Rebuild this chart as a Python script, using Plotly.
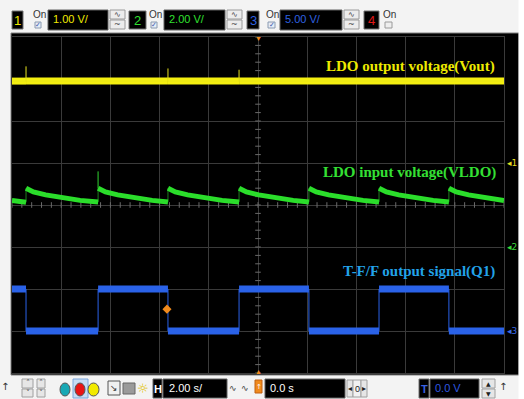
import plotly.graph_objects as go
import numpy as np

# ---------------- data (volts / seconds) ----------------
# Channel settings: volts per division and ground-marker position (divisions from centre)
ch_scale = {"1": 1.00, "2": 2.00, "3": 5.00}
ch_ground_div = {"1": 1.0, "2": -1.0, "3": -3.0}
time_per_div = 2.0  # s/div

# CH1 LDO output voltage (Vout)
vout_t = [-10.0, -9.43, -9.43, -9.43, -3.66, -3.66, -3.66, -0.77, -0.77, -0.77, 10.0]
vout_v = [1.95, 1.95, 2.30, 1.95, 1.95, 2.25, 1.95, 1.95, 2.22, 1.95, 1.95]

# CH2 LDO input voltage (VLDO)
vldo_t = [-10.00, -9.43, -9.43, -9.13, -8.63, -7.93, -7.23, -6.50, -6.50, -6.50,
          -6.20, -5.70, -5.00, -4.30, -3.66, -3.66, -3.36, -2.86, -2.16, -1.46,
          -0.77, -0.77, -0.47, 0.03, 0.73, 1.43, 2.07, 2.07, 2.37, 2.87,
          3.57, 4.27, 4.92, 4.92, 5.22, 5.72, 6.42, 7.12, 7.76, 7.76,
          8.06, 8.56, 9.26, 9.96, 10.00]
vldo_v = [2.22, 2.13, 2.80, 2.62, 2.48, 2.34, 2.22, 2.14, 3.60, 2.80,
          2.62, 2.48, 2.34, 2.22, 2.14, 2.80, 2.62, 2.48, 2.34, 2.22,
          2.14, 2.80, 2.62, 2.48, 2.34, 2.22, 2.14, 2.80, 2.62, 2.48,
          2.34, 2.22, 2.14, 2.80, 2.62, 2.48, 2.34, 2.22, 2.14, 2.80,
          2.62, 2.48, 2.34, 2.22, 2.21]

# CH3 T-F/F output signal (Q1)
q1_t = [-10.0, -9.43, -9.43, -6.50, -6.50, -3.66, -3.66, -0.77, -0.77, 2.07, 2.07, 4.92, 4.92, 7.76, 7.76, 10.0]
q1_v = [5, 5, 0, 0, 5, 5, 0, 0, 5, 5, 0, 0, 5, 5, 0, 0]

# trigger marker
trig_t, trig_v = -3.70, 2.6

labels = ["LDO output voltage(Vout)", "LDO input voltage(VLDO)", "T-F/F output signal(Q1)"]
ch_settings = ["1.00 V/", "2.00 V/", "5.00 V/"]
timebase_label = "2.00 s/"
delay_label = "0.0 s"
trig_level_label = "0.0 V"

# ---------------- layout helpers ----------------
W, H = 524, 399
def px(x): return x / W
def py(y): return 1 - y / H

shapes, annos = [], []
def rect(x0, y0, x1, y1, fill, line=None, lw=1, layer="above"):
    shapes.append(dict(type="rect", xref="paper", yref="paper", x0=px(x0), x1=px(x1),
                       y0=py(y1), y1=py(y0), fillcolor=fill,
                       line=dict(color=line if line else fill, width=lw), layer=layer))
def circ(x0, y0, x1, y1, fill, line="#555"):
    shapes.append(dict(type="circle", xref="paper", yref="paper", x0=px(x0), x1=px(x1),
                       y0=py(y1), y1=py(y0), fillcolor=fill, line=dict(color=line, width=1)))
def text(x, y, s, color="#222", size=10, anchor="center", family="Liberation Sans, Arial, sans-serif", bold=False):
    annos.append(dict(xref="paper", yref="paper", x=px(x), y=py(y), text=("<b>%s</b>" % s) if bold else s,
                      showarrow=False, xanchor=anchor, yanchor="middle",
                      font=dict(color=color, size=size, family=family)))

def split_runs(t, v):
    ot, ov = [], []
    for i in range(len(t)):
        if i > 0 and t[i] == t[i - 1]:
            ot.append(None); ov.append(None)
        ot.append(t[i]); ov.append(v[i])
    return ot, ov

def yrange(ch):
    s, g = ch_scale[ch], ch_ground_div[ch]
    return [(-4 - g) * s, (4 - g) * s]

# ---------------- figure ----------------
fig = go.Figure()

# graticule minor ticks on centre lines
hx = np.arange(-10, 10.001, 0.4)
fig.add_trace(go.Scatter(x=hx, y=[yrange("1")[0] + 4] * len(hx), mode="markers", yaxis="y",
                         marker=dict(symbol="line-ns", size=4, line=dict(color="#6a6a6a", width=1)),
                         hoverinfo="skip", showlegend=False))
vy = np.arange(yrange("1")[0], yrange("1")[1] + 0.001, 0.2)
fig.add_trace(go.Scatter(x=[0] * len(vy), y=vy, mode="markers", yaxis="y",
                         marker=dict(symbol="line-ew", size=4, line=dict(color="#6a6a6a", width=1)),
                         hoverinfo="skip", showlegend=False))

series = [
    (vout_t, vout_v, "y", "#f4ef10", 7, "rgba(230,225,30,0.6)"),
    (vldo_t, vldo_v, "y2", "#2ae02a", 5, "rgba(50,210,50,0.6)"),
    (q1_t, q1_v, "y3", "#2a62e8", 7, "#2a62e8"),
]
for t, v, ax, col, w, thin in series:
    tt, vv = split_runs(t, v)
    fig.add_trace(go.Scatter(x=tt, y=vv, yaxis=ax, mode="lines", line=dict(color=col, width=w),
                             connectgaps=False, hoverinfo="skip", showlegend=False))
    fig.add_trace(go.Scatter(x=t, y=v, yaxis=ax, mode="lines", line=dict(color=thin, width=1),
                             hoverinfo="skip", showlegend=False))

fig.add_trace(go.Scatter(x=[trig_t], y=[trig_v], yaxis="y3", mode="markers",
                         marker=dict(symbol="diamond", size=7, color="#f08a1c"),
                         hoverinfo="skip", showlegend=False))

# trace labels
serif = "Liberation Serif, Times New Roman, serif"
annos.append(dict(xref="paper", yref="paper", x=px(497), y=py(66), text="<b>%s</b>" % labels[0], showarrow=False,
                  xanchor="right", yanchor="middle", font=dict(color="#eeea00", size=15, family=serif)))
annos.append(dict(xref="paper", yref="paper", x=px(498), y=py(172), text="<b>%s</b>" % labels[1], showarrow=False,
                  xanchor="right", yanchor="middle", font=dict(color="#34e034", size=15, family=serif)))
annos.append(dict(xref="paper", yref="paper", x=px(497), y=py(271), text="<b>%s</b>" % labels[2], showarrow=False,
                  xanchor="right", yanchor="middle", font=dict(color="#22a2e8", size=15, family=serif)))

# ground markers on the right
for ch, ax, col in [("1", "y", "#e6de20"), ("2", "y2", "#3ad83a"), ("3", "y3", "#3a6ae8")]:
    annos.append(dict(xref="paper", yref=ax, x=px(512), y=0, text="◂" + ch, showarrow=False,
                      xanchor="center", yanchor="middle", font=dict(color=col, size=9, family="DejaVu Sans")))

# trigger position markers top/bottom
annos.append(dict(xref="x", yref="paper", x=0, y=py(38), text="▼", showarrow=False, xanchor="center",
                  yanchor="middle", font=dict(color="#f08a1c", size=7)))
annos.append(dict(xref="x", yref="paper", x=0, y=py(371), text="▲", showarrow=False, xanchor="center",
                  yanchor="middle", font=dict(color="#f08a1c", size=7)))

# screen background
rect(11, 33, 519, 375, "#000000", line="#808080", lw=1, layer="below")
rect(519, 0, 524, 399, "#ffffff", layer="below")

# ---------------- top bar ----------------
chan = [
    dict(n="1", box=(12, 23), on=39, cb=(35, 41), val=(48, 108), btn=(110, 125), col="#f0ea00"),
    dict(n="2", box=(129, 146), on=155, cb=(151, 157), val=(164, 225), btn=(227, 242), col="#30e030"),
    dict(n="3", box=(247, 259), on=272, cb=(268, 275), val=(280, 342), btn=(344, 359), col="#2f62e0"),
]
for i, c in enumerate(chan):
    rect(c["box"][0], 11, c["box"][1], 29, "#000000", line="#707070")
    text((c["box"][0] + c["box"][1]) / 2, 20.5, c["n"], color=c["col"], size=13)
    text(c["on"], 14, "On", color="#333", size=10)
    rect(c["cb"][0], 22, c["cb"][1], 28, "#e6ecf6", line="#8a9ab0")
    text((c["cb"][0] + c["cb"][1]) / 2, 25, "✓", color="#3c5aa8", size=7, family="DejaVu Sans")
    rect(c["val"][0], 10, c["val"][1], 30, "#000000", line="#606060")
    text(c["val"][0] + 3, 19, ch_settings[i], color=c["col"], size=11, anchor="left")
    rect(c["btn"][0], 10, c["btn"][1], 19, "#ececec", line="#9a9a9a")
    rect(c["btn"][0], 20, c["btn"][1], 29, "#ececec", line="#9a9a9a")
    text((c["btn"][0] + c["btn"][1]) / 2, 14.5, "∿", color="#444", size=8, family="DejaVu Sans")
    text((c["btn"][0] + c["btn"][1]) / 2, 24.5, "~", color="#444", size=8, family="DejaVu Sans")
# channel 4 (off)
rect(364, 11, 379, 29, "#000000", line="#707070")
text(371.5, 20.5, "4", color="#e01818", size=13)
text(389, 14, "On", color="#333", size=10)
rect(385, 22, 392, 28, "#eeeeee", line="#9a9a9a")

# ---------------- bottom bar ----------------
text(5, 386, "↑", color="#333", size=10, family="DejaVu Sans")
for x0, x1 in [(22, 33), (37, 45)]:
    rect(x0, 379, x1, 388, "#e6e6e6", line="#a0a0a0")
    rect(x0, 389, x1, 397, "#e6e6e6", line="#a0a0a0")
    text((x0 + x1) / 2, 383.5, "˄", color="#555", size=8, family="DejaVu Sans")
    text((x0 + x1) / 2, 393, "˅", color="#555", size=8, family="DejaVu Sans")
circ(60, 383, 70, 396, "#19a8b4")
rect(73, 379, 88, 398, "#c6dcf4", line="#7aa6dc")
circ(75, 383, 85, 396, "#e81414")
circ(88, 383, 99, 396, "#f2ea00")
rect(108, 381, 120, 395, "#f0f0f0", line="#555")
text(114, 388, "↘", color="#333", size=9, family="DejaVu Sans")
rect(123, 383, 135, 394, "#9a9a9a", line="#666")
text(143, 388, "☼", color="#e0c000", size=13, family="DejaVu Sans")
rect(153, 379, 162, 398, "#000000", line="#606060")
text(157.5, 388.5, "H", color="#ffffff", size=11, bold=True)
rect(163, 379, 227, 398, "#000000", line="#606060")
text(167, 388, timebase_label, color="#ffffff", size=11, anchor="left")
text(233, 388, "∿", color="#444", size=9, family="DejaVu Sans")
text(245, 388, "∿", color="#444", size=9, family="DejaVu Sans")
rect(255, 380, 262, 393, "#f08a1c", line="#c06010")
text(258.5, 386.5, "↑", color="#ffffff", size=7, family="DejaVu Sans")
rect(265, 379, 345, 398, "#000000", line="#606060")
text(268, 388, delay_label, color="#ffffff", size=11, anchor="left")
rect(347, 380, 353, 397, "#e6e6e6", line="#a0a0a0")
text(350, 388.5, "◂", color="#222", size=8, family="DejaVu Sans")
rect(353, 380, 361, 397, "#f2f2f2", line="#a0a0a0")
text(357, 388.5, "0", color="#222", size=9)
rect(361, 380, 367, 397, "#e6e6e6", line="#a0a0a0")
text(364, 388.5, "▸", color="#222", size=8, family="DejaVu Sans")
rect(419, 379, 429, 398, "#000000", line="#707070")
text(424, 388.5, "T", color="#3a62e0", size=11, bold=True)
rect(430, 379, 479, 398, "#000000", line="#606060")
text(433, 388, trig_level_label, color="#2f5ae0", size=11, anchor="left")
rect(482, 379, 495, 388, "#e6e6e6", line="#a0a0a0")
rect(482, 389, 495, 398, "#e6e6e6", line="#a0a0a0")
text(488.5, 383.5, "▲", color="#222", size=6, family="DejaVu Sans")
text(488.5, 393.5, "▼", color="#222", size=6, family="DejaVu Sans")
text(503, 386, "↑", color="#333", size=10, family="DejaVu Sans")

gridc = "#3a3a3a"
fig.update_layout(
    width=W, height=H, margin=dict(l=0, r=0, t=0, b=0),
    paper_bgcolor="#f3f3f3", plot_bgcolor="#000000", showlegend=False,
    xaxis=dict(domain=[px(12), px(504)], range=[-5 * time_per_div, 5 * time_per_div], dtick=time_per_div,
               tick0=0, showgrid=True, gridcolor=gridc, gridwidth=1, zeroline=False,
               showticklabels=False, ticks="", showline=True, linecolor=gridc, mirror=True, fixedrange=True),
    yaxis=dict(domain=[py(373), py(37)], range=yrange("1"), dtick=ch_scale["1"], tick0=0,
               showgrid=True, gridcolor=gridc, gridwidth=1, zeroline=False, showticklabels=False,
               ticks="", showline=True, linecolor=gridc, mirror=True, fixedrange=True),
    yaxis2=dict(overlaying="y", range=yrange("2"), visible=False, fixedrange=True),
    yaxis3=dict(overlaying="y", range=yrange("3"), visible=False, fixedrange=True),
    shapes=shapes, annotations=annos,
)

fig.write_html("out.html", config={"displayModeBar": False},
               post_script="document.body.style.margin='0';document.body.style.overflow='hidden';")
